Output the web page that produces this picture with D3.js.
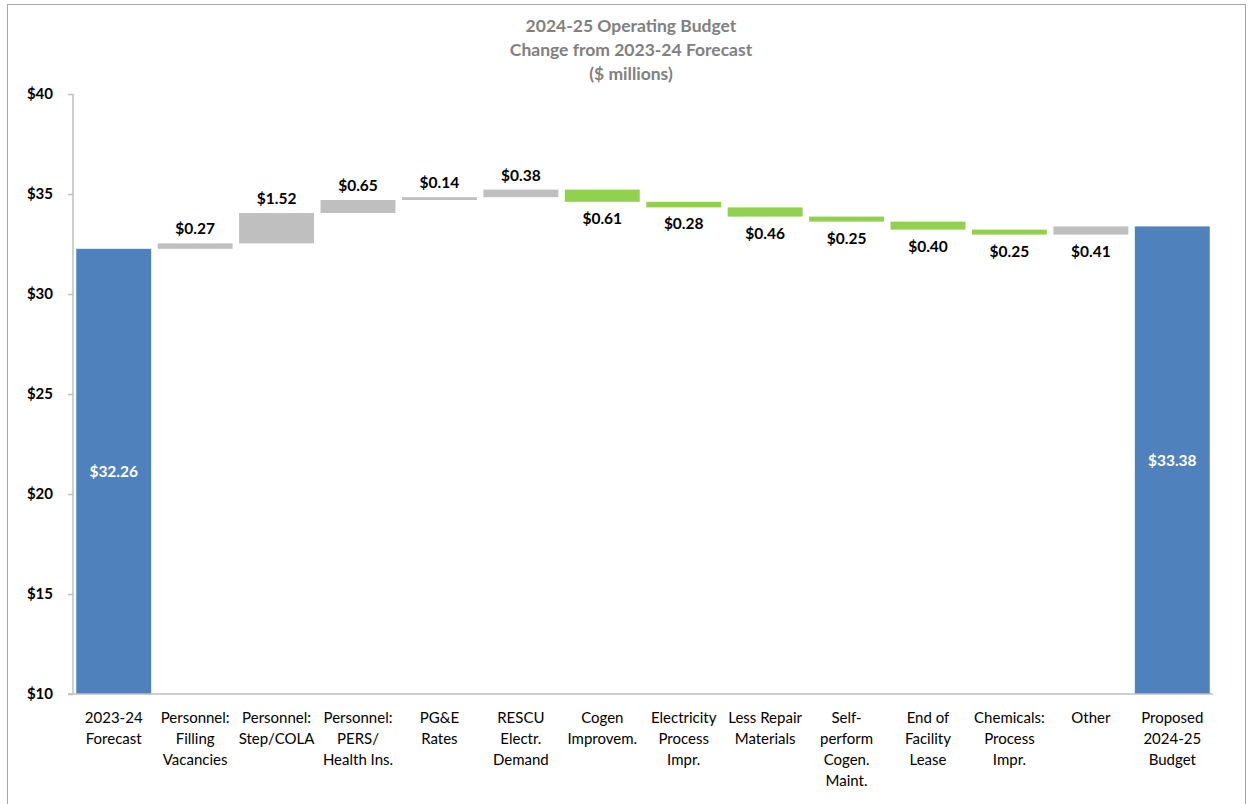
<!DOCTYPE html>
<html>
<head>
<meta charset="utf-8">
<script src="https://cdn.jsdelivr.net/npm/d3@7"></script>
<style>
  html, body { margin: 0; padding: 0; background: #fff; }
  svg { display: block; font-family: Lato, "Noto Sans", sans-serif; }
</style>
</head>
<body>
<svg id="chart" width="1250" height="804"></svg>
<script>
// Operating budget bridge: 2023-24 forecast to proposed 2024-25 budget ($ millions)
const categories = [
  ["2023-24", "Forecast"],
  ["Personnel:", "Filling", "Vacancies"],
  ["Personnel:", "Step/COLA"],
  ["Personnel:", "PERS/", "Health Ins."],
  ["PG&E", "Rates"],
  ["RESCU", "Electr.", "Demand"],
  ["Cogen", "Improvem."],
  ["Electricity", "Process", "Impr."],
  ["Less Repair", "Materials"],
  ["Self-", "perform", "Cogen.", "Maint."],
  ["End of", "Facility", "Lease"],
  ["Chemicals:", "Process", "Impr."],
  ["Other"],
  ["Proposed", "2024-25", "Budget"]
];
// "total" bars start from the axis; changes float on the running total
const kinds   = ["total", "up", "up", "up", "up", "up", "down", "down", "down", "down", "down", "down", "up", "total"];
const amounts = [32.26, 0.27, 1.52, 0.65, 0.14, 0.38, 0.61, 0.28, 0.46, 0.25, 0.40, 0.25, 0.41, 33.38];
const yTicks  = [10, 15, 20, 25, 30, 35, 40];
const titleLines = ["2024-25 Operating Budget", "Change from 2023-24 Forecast", "($ millions)"];

const colors = { total: "#4f81bd", up: "#bfbfbf", down: "#92d050" };

const svg = d3.select("#chart");

// outer frame
svg.append("rect").attr("x", 7.5).attr("y", 4.5).attr("width", 1238).attr("height", 820)
  .attr("fill", "none").attr("stroke", "#a6a6a6").attr("stroke-width", 1);

const x = d3.scaleBand().domain(d3.range(categories.length)).range([73, 1213])
  .paddingInner(0.08).paddingOuter(0.04);
const y = d3.scaleLinear().domain([10, 40]).range([694, 94]);

// running totals
let running = 0;
const rows = amounts.map((v, i) => {
  let lo, hi;
  if (kinds[i] === "total") { lo = 10; hi = v; running = v; }
  else if (kinds[i] === "up") { lo = running; hi = running + v; running = hi; }
  else { hi = running; lo = running - v; running = lo; }
  return { i, v, lo, hi, kind: kinds[i] };
});

// title
svg.append("g").selectAll("text").data(titleLines).join("text")
  .attr("x", 631).attr("y", (d, i) => 32 + i * 24)
  .attr("text-anchor", "middle").attr("font-weight", "bold").attr("font-size", 17.5)
  .attr("fill", "#808080").text(d => d);

// y axis
const yAxis = svg.append("g").attr("transform", "translate(73,0)")
  .call(d3.axisLeft(y).tickValues(yTicks).tickSize(5).tickFormat(d => "$" + d));
yAxis.select(".domain").attr("stroke", "#bfbfbf").attr("stroke-width", 1.5).attr("d", "M0,94V694");
yAxis.selectAll(".tick line").attr("stroke", "#bfbfbf").attr("stroke-width", 1.5);
yAxis.selectAll(".tick text").attr("x", -20).attr("font-size", 15).attr("font-weight", "bold")
  .attr("fill", "#000").attr("font-family", "Lato, 'Noto Sans', sans-serif");

// bars
svg.append("g").selectAll("rect").data(rows).join("rect")
  .attr("x", d => x(d.i)).attr("width", x.bandwidth())
  .attr("y", d => y(d.hi)).attr("height", d => y(d.lo) - y(d.hi))
  .attr("fill", d => colors[d.kind]);

// x baseline
svg.append("line").attr("x1", 68).attr("x2", 1213).attr("y1", 694).attr("y2", 694)
  .attr("stroke", "#bfbfbf").attr("stroke-width", 1.5);

// value labels: totals inside, first increases above, the rest below
const fmt = v => "$" + v.toFixed(2);
svg.append("g").selectAll("text").data(rows).join("text")
  .attr("x", d => x(d.i) + x.bandwidth() / 2)
  .attr("y", d => {
    if (d.kind === "total") return (y(d.hi) + y(d.lo)) / 2 + 6;
    if (d.i <= 5) return y(d.hi) - 9;
    return y(d.lo) + 22;
  })
  .attr("text-anchor", "middle").attr("font-size", 15.5).attr("font-weight", "bold")
  .attr("fill", d => d.kind === "total" ? "#fff" : "#000")
  .text(d => fmt(d.v));

// category labels
const cat = svg.append("g").selectAll("text").data(categories).join("text")
  .attr("x", (d, i) => x(i) + x.bandwidth() / 2)
  .attr("y", 723).attr("text-anchor", "middle").attr("font-size", 15).attr("fill", "#000");
cat.selectAll("tspan").data(d => d).join("tspan")
  .attr("x", function () { return this.parentNode.getAttribute("x"); })
  .attr("dy", (d, i) => i === 0 ? 0 : 21).text(d => d);
</script>
</body>
</html>
